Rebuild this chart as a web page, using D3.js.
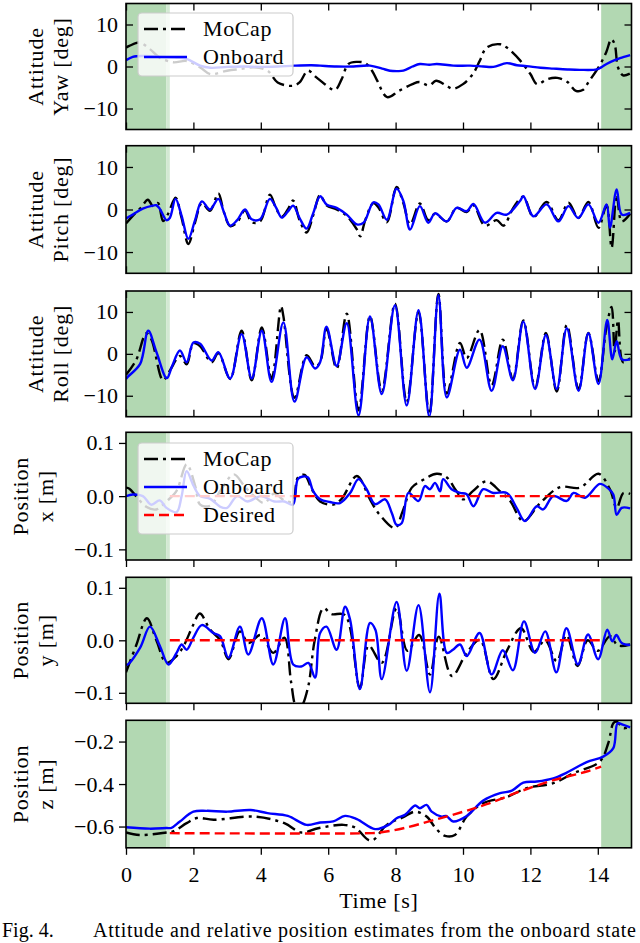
<!DOCTYPE html>
<html>
<head>
<meta charset="utf-8">
<script src="https://cdnjs.cloudflare.com/ajax/libs/d3/7.8.5/d3.min.js"></script>
<style>
  body { margin: 0; background: #fff; }
  svg text { font-family: "Liberation Serif", "Times New Roman", serif; }
</style>
</head>
<body>
<div class="canvas"></div>
<script>
// data: [time s, value]
const xTicks = [0, 2, 4, 6, 8, 10, 12, 14];
const attTicks = [-10, 0, 10];
const posTicks = [-0.1, 0.0, 0.1];
const zTicks = [-0.6, -0.4, -0.2];
const greenSpans = [[0, 1.2, 'dark'], [1.2, 1.3, 'light'], [14.1, 15, 'dark']];

const yawMocap = [[0,4.5],[0.1,4.9],[0.4,5.7],[0.7,4.2],[1.0,2.1],[1.4,1.0],[1.8,1.3],[2.2,-0.2],[2.5,-1.8],[3.0,-1.0],[3.4,-0.6],[3.8,-0.2],[4.2,-1.0],[4.5,-3.8],[4.95,-4.6],[5.15,-3.8],[5.4,-1.0],[5.65,-2.6],[5.9,-4.2],[6.2,-5.6],[6.4,-3.0],[6.6,0.6],[6.85,1.1],[7.1,0.8],[7.3,-1.0],[7.45,-3.3],[7.75,-7.3],[8.1,-5.8],[8.5,-4.2],[8.7,-3.7],[9.0,-4.5],[9.2,-3.4],[9.5,-4.5],[9.7,-5.3],[10.0,-4.2],[10.3,-1.7],[10.5,1.4],[10.7,4.5],[11.1,5.3],[11.3,4.5],[11.7,1.4],[12.0,-1.8],[12.2,-4.2],[12.5,-3.0],[12.8,-2.7],[13.1,-3.7],[13.35,-5.8],[13.55,-5.6],[13.75,-3.4],[14.05,0.2],[14.25,3.4],[14.4,6.5],[14.5,5.3],[14.6,-0.2],[14.75,-2.1],[14.95,-1.7]];
const yawOnboard = [[0,1.5],[0.2,2.3],[0.5,2.5],[1.0,2.3],[1.5,2.1],[1.8,1.8],[2.2,0.2],[2.5,-0.3],[3.0,-0.1],[3.5,0.0],[4.0,-0.1],[4.5,0.0],[5.0,0.2],[5.5,0.3],[5.76,0.2],[6.25,0.0],[6.75,0.0],[7.24,0.2],[7.6,-0.5],[7.83,-1.0],[8.05,-1.1],[8.23,-1.0],[8.5,0.0],[8.72,0.6],[9.0,0.4],[9.22,0.6],[9.71,0.2],[10.21,0.2],[10.6,0.0],[10.9,-0.1],[11.3,0.8],[11.6,0.3],[11.89,0.1],[12.3,-0.3],[12.68,-0.5],[13.1,-0.7],[13.47,-0.8],[13.97,-0.7],[14.1,-0.2],[14.26,0.6],[14.5,1.5],[14.66,2.0],[14.96,2.7]];

const pitchMocap = [[0,-3.3],[0.2,-1.5],[0.45,0.5],[0.65,2.3],[0.8,0.8],[0.95,1.5],[1.1,-2.7],[1.25,-1.0],[1.47,2.8],[1.65,-2.0],[1.85,-8.1],[2.05,-3.0],[2.25,1.5],[2.49,-0.3],[2.74,3.8],[2.9,-0.5],[3.09,-3.9],[3.3,-3.0],[3.53,-0.2],[3.73,-3.0],[3.98,-2.8],[4.27,3.5],[4.45,0.3],[4.62,-1.7],[4.8,0],[4.96,2.1],[5.15,-2.5],[5.36,-5.4],[5.55,-1.5],[5.76,3.4],[5.95,1.0],[6.25,0.0],[6.55,-1.5],[6.85,-4.7],[6.95,-6.3],[7.1,-2.5],[7.34,1.5],[7.49,0.5],[7.74,-3.0],[8.03,5.3],[8.23,1.5],[8.43,-3.5],[8.72,1.4],[8.97,-2.5],[9.17,-1.0],[9.52,-2.8],[9.81,0.4],[10.11,-0.6],[10.31,1.0],[10.65,-3.8],[11.0,-2.5],[11.2,-3.8],[11.5,0.5],[11.79,3.0],[12.09,-1.8],[12.48,1.8],[12.83,-2.5],[13.13,1.6],[13.42,-2.0],[13.72,1.8],[14.02,-4.3],[14.26,1.0],[14.41,-9.0],[14.56,3.5],[14.71,-2.8],[14.96,-1.0]];
const pitchOnboard = [[0,-2.2],[0.05,-1.9],[0.2,-1.2],[0.5,0.2],[0.8,0.9],[0.9,1.0],[1.0,0.2],[1.2,-2.5],[1.3,-2.0],[1.47,2.5],[1.65,-1.5],[1.85,-6.9],[2.05,-2.5],[2.25,1.9],[2.49,0],[2.74,2.5],[2.9,-0.5],[3.09,-3.8],[3.3,-2.5],[3.53,0],[3.73,-2.3],[3.98,-2.3],[4.27,2.5],[4.45,0.5],[4.62,-1.9],[4.8,-0.5],[4.96,0.9],[5.15,-2.0],[5.36,-4.5],[5.55,-1.0],[5.76,3.1],[5.95,1.2],[6.25,0.4],[6.55,-1.2],[6.85,-3.5],[7.05,-3.1],[7.34,1.7],[7.49,1.2],[7.74,-2.4],[8.03,4.9],[8.23,2.0],[8.43,-4.7],[8.72,0.8],[8.97,-3.1],[9.17,-0.9],[9.52,-2.8],[9.81,0.4],[10.11,-0.4],[10.31,1.3],[10.65,-3.1],[11.0,-0.8],[11.3,-1.2],[11.69,2.0],[11.79,3.1],[12.09,-1.6],[12.48,1.2],[12.83,-2.8],[13.13,0.8],[13.42,-2.0],[13.72,1.2],[14.02,-3.1],[14.26,1.2],[14.36,-4.3],[14.56,4.7],[14.71,-1.2],[14.96,-0.8]];

const rollMocap = [[0,-5.0],[0.3,-1.5],[0.6,4.9],[0.75,3.5],[1.1,-6.3],[1.3,-4.0],[1.6,-0.5],[1.8,-2.5],[2.0,2.5],[2.2,1.8],[2.54,-2.0],[2.74,0.2],[3.09,-6.0],[3.43,5.5],[3.73,-6.3],[4.03,6.3],[4.32,-6.0],[4.6,11.4],[4.67,9.0],[5.0,-10.5],[5.36,-0.3],[5.61,-3.0],[5.76,-2.0],[5.95,6.0],[6.25,-3.5],[6.55,9.6],[6.9,-13.5],[7.24,9.0],[7.59,-8.8],[7.98,12.0],[8.33,-11.5],[8.68,10.0],[9.0,-14.5],[9.27,14.3],[9.52,-9.5],[9.91,2.6],[10.11,-1.0],[10.49,5.7],[10.85,-7.5],[11.18,3.4],[11.48,-6.0],[11.79,8.0],[12.14,-8.0],[12.46,5.0],[12.78,-9.0],[13.08,6.9],[13.43,-8.5],[13.72,5.0],[14.02,-6.5],[14.25,6.0],[14.41,11.2],[14.5,0.5],[14.6,8.0],[14.75,-2.0],[14.96,-1.0]];
const rollOnboard = [[0,-6.0],[0.05,-5.5],[0.42,-2.4],[0.66,5.5],[0.9,0.5],[1.21,-5.8],[1.36,-3.1],[1.6,0.8],[1.8,-2.0],[2.0,2.7],[2.2,2.4],[2.54,-1.6],[2.74,0.4],[3.09,-5.9],[3.43,4.7],[3.73,-5.9],[4.03,5.5],[4.32,-6.7],[4.67,7.5],[5.0,-11.4],[5.36,-0.8],[5.61,-3.5],[5.76,-2.0],[5.95,6.5],[6.25,-2.9],[6.55,7.3],[6.9,-14.7],[7.24,8.9],[7.59,-9.6],[7.98,11.6],[8.33,-12.3],[8.68,10.4],[9.0,-15],[9.27,14.0],[9.52,-10.4],[9.91,1.0],[10.11,-3.3],[10.49,3.4],[10.85,-8.8],[11.18,1.8],[11.48,-6.3],[11.79,7.7],[12.14,-8.4],[12.46,4.5],[12.78,-8.4],[13.08,6.1],[13.43,-8.8],[13.72,4.9],[14.02,-7.2],[14.28,8.1],[14.43,-1.3],[14.56,3.0],[14.71,-1.3],[14.96,-1.3]];

const posxMocap = [[0,0.016],[0.1,0.014],[0.3,0.0],[0.6,-0.02],[0.9,-0.025],[1.2,-0.01],[1.5,0.01],[1.8,0.06],[2.05,0.02],[2.2,-0.016],[2.5,-0.018],[2.8,0.01],[3.2,0.041],[3.5,0.02],[3.8,0.0],[4.1,-0.013],[4.4,0.005],[4.7,-0.008],[4.95,-0.01],[5.1,0.035],[5.3,0.04],[5.5,0.015],[5.76,-0.01],[6.15,-0.016],[6.4,-0.005],[6.85,0.038],[7.24,-0.006],[7.49,-0.032],[7.98,-0.06],[8.2,-0.03],[8.48,0.016],[8.72,0.027],[9.22,0.042],[9.52,0.035],[9.8,0.01],[10.01,-0.006],[10.3,0.01],[10.7,0.028],[11.1,0.009],[11.4,-0.009],[11.79,-0.047],[12.29,-0.013],[12.88,0.017],[13.47,0.016],[14.02,0.042],[14.36,0.013],[14.56,-0.022],[14.76,0.006],[14.96,0.004]];
const posxOnboard = [[0,0.0],[0.2,0.003],[0.5,0.0],[0.75,-0.016],[1.0,-0.008],[1.2,-0.022],[1.5,-0.03],[1.65,0.0],[1.8,0.047],[2.0,0.02],[2.2,0.0],[2.5,-0.005],[2.8,-0.02],[3.0,-0.022],[3.3,0.0],[3.6,-0.01],[4.0,0.0],[4.4,-0.01],[4.7,-0.01],[4.95,-0.016],[5.1,0.032],[5.25,0.037],[5.4,0.035],[5.55,0.01],[5.76,-0.006],[6.05,-0.011],[6.35,-0.013],[6.65,0.006],[6.9,0.032],[7.14,0.013],[7.39,-0.015],[7.69,-0.006],[7.89,-0.032],[8.03,-0.054],[8.18,-0.051],[8.38,0.006],[8.68,-0.009],[8.87,0.019],[9.02,0.013],[9.17,0.025],[9.32,0.009],[9.41,0.032],[9.66,0.013],[9.91,0.006],[10.1,0.004],[10.31,-0.019],[10.6,0.013],[10.9,0.006],[11.3,0.006],[11.59,-0.022],[11.84,-0.047],[12.19,-0.019],[12.38,-0.025],[12.68,0],[13.08,-0.009],[13.28,0.006],[13.62,-0.003],[14.06,0.023],[14.3,0.015],[14.46,0.003],[14.56,-0.035],[14.71,-0.022],[14.96,-0.023]];
const posxDesired = [[1.3,0],[14.1,0]];

const posyMocap = [[0,-0.061],[0.3,-0.01],[0.62,0.042],[0.9,0.0],[1.2,-0.043],[1.5,-0.03],[1.7,-0.012],[2.0,0.03],[2.19,0.051],[2.5,0.02],[2.8,0.0],[3.04,-0.036],[3.38,0.017],[3.63,-0.005],[4.0,0.01],[4.37,-0.024],[4.7,0.005],[4.9,-0.08],[5.05,-0.125],[5.2,-0.125],[5.4,-0.09],[5.6,0.0],[5.86,0.061],[6.1,0.05],[6.5,0.048],[6.94,-0.09],[7.2,-0.01],[7.59,-0.043],[8.03,0.061],[8.35,-0.02],[8.7,0.01],[9.02,-0.065],[9.28,0.007],[9.67,-0.068],[10.11,-0.024],[10.5,0.001],[10.9,-0.074],[11.3,-0.02],[11.72,0.023],[12.1,-0.022],[12.44,0.0],[12.78,-0.04],[13.07,0.01],[13.4,-0.049],[13.7,0.0],[14.0,-0.02],[14.36,0.008],[14.6,-0.01],[14.96,-0.008]];
const posyOnboard = [[0,-0.046],[0.05,-0.046],[0.42,-0.014],[0.71,0.026],[1.0,-0.01],[1.26,-0.046],[1.5,-0.024],[1.65,-0.008],[1.8,-0.018],[2.0,0.005],[2.25,0.029],[2.59,0.014],[2.79,0.008],[3.04,-0.033],[3.38,0.026],[3.63,-0.027],[4.03,0.042],[4.37,-0.046],[4.72,0.042],[4.96,-0.046],[5.2,-0.05],[5.41,-0.043],[5.61,-0.071],[5.76,0.014],[5.95,0.026],[6.25,-0.018],[6.5,0.064],[6.65,0.039],[6.94,-0.093],[7.24,0.033],[7.4,0.02],[7.59,-0.074],[8.03,0.073],[8.33,-0.058],[8.68,0.067],[9.02,-0.099],[9.3,0.089],[9.52,-0.024],[9.7,-0.018],[9.91,-0.008],[10.11,-0.03],[10.49,0.014],[10.85,-0.065],[11.18,-0.019],[11.48,-0.057],[11.81,0.036],[12.14,-0.024],[12.44,0.017],[12.77,-0.061],[13.07,0.023],[13.41,-0.046],[13.71,0.011],[14.01,-0.036],[14.28,0.02],[14.43,-0.002],[14.55,0.01],[14.71,-0.005],[14.96,-0.009]];
const posyDesired = [[1.3,0],[14.1,0]];

const poszMocap = [[0,-0.628],[0.4,-0.64],[1.2,-0.628],[1.4,-0.623],[1.8,-0.584],[2.1,-0.56],[2.6,-0.568],[3.8,-0.553],[4.7,-0.584],[5.2,-0.628],[5.7,-0.608],[6.45,-0.592],[6.8,-0.605],[7.19,-0.663],[7.34,-0.663],[7.74,-0.592],[8.23,-0.556],[8.58,-0.53],[8.92,-0.553],[9.2,-0.61],[9.47,-0.644],[9.76,-0.64],[10.11,-0.553],[10.6,-0.49],[11.3,-0.461],[11.89,-0.419],[12.68,-0.396],[13.28,-0.349],[14.06,-0.294],[14.31,-0.208],[14.46,-0.114],[14.56,-0.106],[14.76,-0.137],[14.96,-0.13]];
const poszOnboard = [[0,-0.603],[0.7,-0.61],[1.2,-0.607],[1.35,-0.606],[1.6,-0.576],[2.0,-0.53],[2.4,-0.526],[3.0,-0.53],[3.7,-0.522],[4.2,-0.537],[4.8,-0.55],[5.36,-0.592],[5.76,-0.581],[6.15,-0.576],[6.5,-0.55],[6.85,-0.565],[7.39,-0.612],[7.79,-0.592],[8.03,-0.561],[8.28,-0.545],[8.58,-0.501],[8.72,-0.514],[8.92,-0.498],[9.07,-0.53],[9.37,-0.553],[9.5,-0.55],[9.71,-0.576],[10.11,-0.55],[10.6,-0.478],[11.1,-0.443],[11.45,-0.431],[11.79,-0.393],[12.19,-0.388],[12.68,-0.373],[13.08,-0.346],[13.67,-0.297],[14.16,-0.271],[14.46,-0.231],[14.59,-0.114],[14.76,-0.122],[14.96,-0.133]];
const poszDesired = [[1.3,-0.631],[7.3,-0.631],[7.54,-0.628],[8.23,-0.608],[9.12,-0.57],[10.01,-0.53],[10.7,-0.495],[11.69,-0.435],[12.68,-0.382],[13.67,-0.341],[14.1,-0.318]];

// line styles
const styles = {
    MoCap: { color: '#000000', dash: '14,5,3,5' },
    Onboard: { color: '#0000ff', dash: null },
    Desired: { color: '#ff0000', dash: '10,5' }
};

const svg = d3.select('.canvas')
    .append('svg')
    .attr('width', 640)
    .attr('height', 943);

svg.append('rect').attr('width', 640).attr('height', 943).attr('fill', '#fff');

const fontSize = 22;
const x = d3.scaleLinear().domain([0, 15]).range([126, 631.5]);

const panels = [
    { labels: ['Attitude', 'Yaw [deg]'], top: 3.5, height: 126, domain: [-15, 15], ticks: attTicks, att: true,
      series: [['MoCap', yawMocap], ['Onboard', yawOnboard]], legend: { top: 13, rows: ['MoCap', 'Onboard'] } },
    { labels: ['Attitude', 'Pitch [deg]'], top: 145.7, height: 127.6, domain: [-15, 15], ticks: attTicks, att: true,
      series: [['MoCap', pitchMocap], ['Onboard', pitchOnboard]] },
    { labels: ['Attitude', 'Roll [deg]'], top: 291, height: 125.7, domain: [-15, 15], ticks: attTicks, att: true,
      series: [['MoCap', rollMocap], ['Onboard', rollOnboard]] },
    { labels: ['Position', 'x [m]'], top: 432.3, height: 127.7, domain: [-0.12, 0.12], ticks: posTicks, att: false,
      series: [['MoCap', posxMocap], ['Onboard', posxOnboard], ['Desired', posxDesired]],
      legend: { top: 443, rows: ['MoCap', 'Onboard', 'Desired'] } },
    { labels: ['Position', 'y [m]'], top: 577.3, height: 126, domain: [-0.12, 0.12], ticks: posTicks, att: false,
      series: [['MoCap', posyMocap], ['Onboard', posyOnboard], ['Desired', posyDesired]] },
    { labels: ['Position', 'z [m]'], top: 720.3, height: 127.5, domain: [-0.7, -0.1], ticks: zTicks, att: false,
      series: [['MoCap', poszMocap], ['Onboard', poszOnboard], ['Desired', poszDesired]], xLabels: true }
];

const styleText = sel => sel
    .attr('font-family', '"Liberation Serif", serif')
    .attr('font-size', fontSize)
    .attr('fill', '#000');

panels.forEach((p, i) => {
    const y = d3.scaleLinear().domain(p.domain).range([p.top + p.height, p.top]);
    const graph = svg.append('g');

    graph.append('clipPath')
        .attr('id', `clip${i}`)
        .append('rect')
        .attr('x', x(0)).attr('y', p.top)
        .attr('width', x(15) - x(0)).attr('height', p.height);

    // green shaded segments
    graph.selectAll('rect.span')
        .data(greenSpans)
        .enter()
        .append('rect')
        .attr('class', 'span')
        .attr('x', d => x(d[0]))
        .attr('width', d => x(d[1]) - x(d[0]))
        .attr('y', p.top)
        .attr('height', p.height)
        .attr('fill', d => d[2] === 'dark' ? '#b2d8b2' : '#d3e9d3');

    const line = d3.line()
        .x(d => x(d[0]))
        .y(d => y(d[1]))
        .curve(d3.curveCatmullRom.alpha(0.5));

    graph.append('g')
        .attr('clip-path', `url(#clip${i})`)
        .selectAll('path')
        .data(p.series)
        .enter()
        .append('path')
        .attr('d', d => line(d[1]))
        .attr('fill', 'none')
        .attr('stroke', d => styles[d[0]].color)
        .attr('stroke-width', 2.4)
        .attr('stroke-dasharray', d => styles[d[0]].dash)
        .attr('stroke-linejoin', 'round');

    // axes
    const yAxis = p.att
        ? d3.axisLeft(y).tickValues(p.ticks).tickSize(-7).tickPadding(8).tickSizeOuter(0)
        : d3.axisLeft(y).tickValues(p.ticks).tickSize(7).tickPadding(5).tickSizeOuter(0)
            .tickFormat(d3.format('.1f'));
    const yAxisGroup = graph.append('g').attr('transform', `translate(${x(0)},0)`).call(yAxis);

    const xAxis = d3.axisBottom(x).tickValues(xTicks).tickSizeOuter(0);
    if (p.att) xAxis.tickSize(-7).tickFormat('');
    else if (p.xLabels) xAxis.tickSize(7).tickPadding(12);
    else xAxis.tickSize(7).tickFormat('');
    const xAxisGroup = graph.append('g').attr('transform', `translate(0,${p.top + p.height})`).call(xAxis);

    const groups = [yAxisGroup, xAxisGroup];
    if (p.att) {
        groups.push(graph.append('g').attr('transform', `translate(0,${p.top})`)
            .call(d3.axisTop(x).tickValues(xTicks).tickSize(-7).tickFormat('').tickSizeOuter(0)));
        groups.push(graph.append('g').attr('transform', `translate(${x(15)},0)`)
            .call(d3.axisRight(y).tickValues(p.ticks).tickSize(-7).tickFormat('').tickSizeOuter(0)));
    }
    groups.forEach(g => {
        g.select('.domain').remove();
        g.selectAll('line').attr('stroke', '#000').attr('stroke-width', 1.3);
        g.selectAll('text').call(styleText);
    });

    // frame
    graph.append('rect')
        .attr('x', x(0)).attr('y', p.top)
        .attr('width', x(15) - x(0)).attr('height', p.height)
        .attr('fill', 'none')
        .attr('stroke', '#000')
        .attr('stroke-width', 1.6);

    // y label, two lines
    const cy = p.top + p.height / 2;
    const base = p.att ? [43, 68] : [28, 53];
    p.labels.forEach((t, k) => {
        graph.append('text')
            .attr('transform', `translate(${base[k]},${cy}) rotate(-90)`)
            .attr('text-anchor', 'middle')
            .attr('letter-spacing', 0.8)
            .text(t)
            .call(styleText);
    });

    // legend
    if (p.legend) {
        const lg = graph.append('g');
        const rowH = 28;
        lg.append('rect')
            .attr('x', 138).attr('y', p.legend.top)
            .attr('width', 155).attr('height', p.legend.rows.length * rowH + 7)
            .attr('rx', 4)
            .attr('fill', '#fff').attr('fill-opacity', 0.8)
            .attr('stroke', '#cccccc').attr('stroke-width', 1.2);
        p.legend.rows.forEach((name, k) => {
            const ry = p.legend.top + 16 + k * rowH;
            lg.append('line')
                .attr('x1', 144).attr('x2', 187).attr('y1', ry).attr('y2', ry)
                .attr('stroke', styles[name].color)
                .attr('stroke-width', 2.4)
                .attr('stroke-dasharray', styles[name].dash);
            lg.append('text')
                .attr('x', 203).attr('y', ry + 7)
                .attr('letter-spacing', 0.6)
                .text(name)
                .call(styleText);
        });
    }
});

svg.append('text')
    .attr('x', x(7.5)).attr('y', 908)
    .attr('text-anchor', 'middle')
    .attr('letter-spacing', 0.6)
    .text('Time [s]')
    .call(styleText);

// caption line at the bottom edge
svg.append('text')
    .attr('x', 2).attr('y', 937)
    .text('Fig. 4.')
    .call(styleText)
    .attr('font-size', 20);
svg.append('text')
    .attr('x', 93).attr('y', 937)
    .attr('textLength', 543)
    .attr('lengthAdjust', 'spacing')
    .text('Attitude and relative position estimates from the onboard state')
    .call(styleText)
    .attr('font-size', 20);
</script>
</body>
</html>
